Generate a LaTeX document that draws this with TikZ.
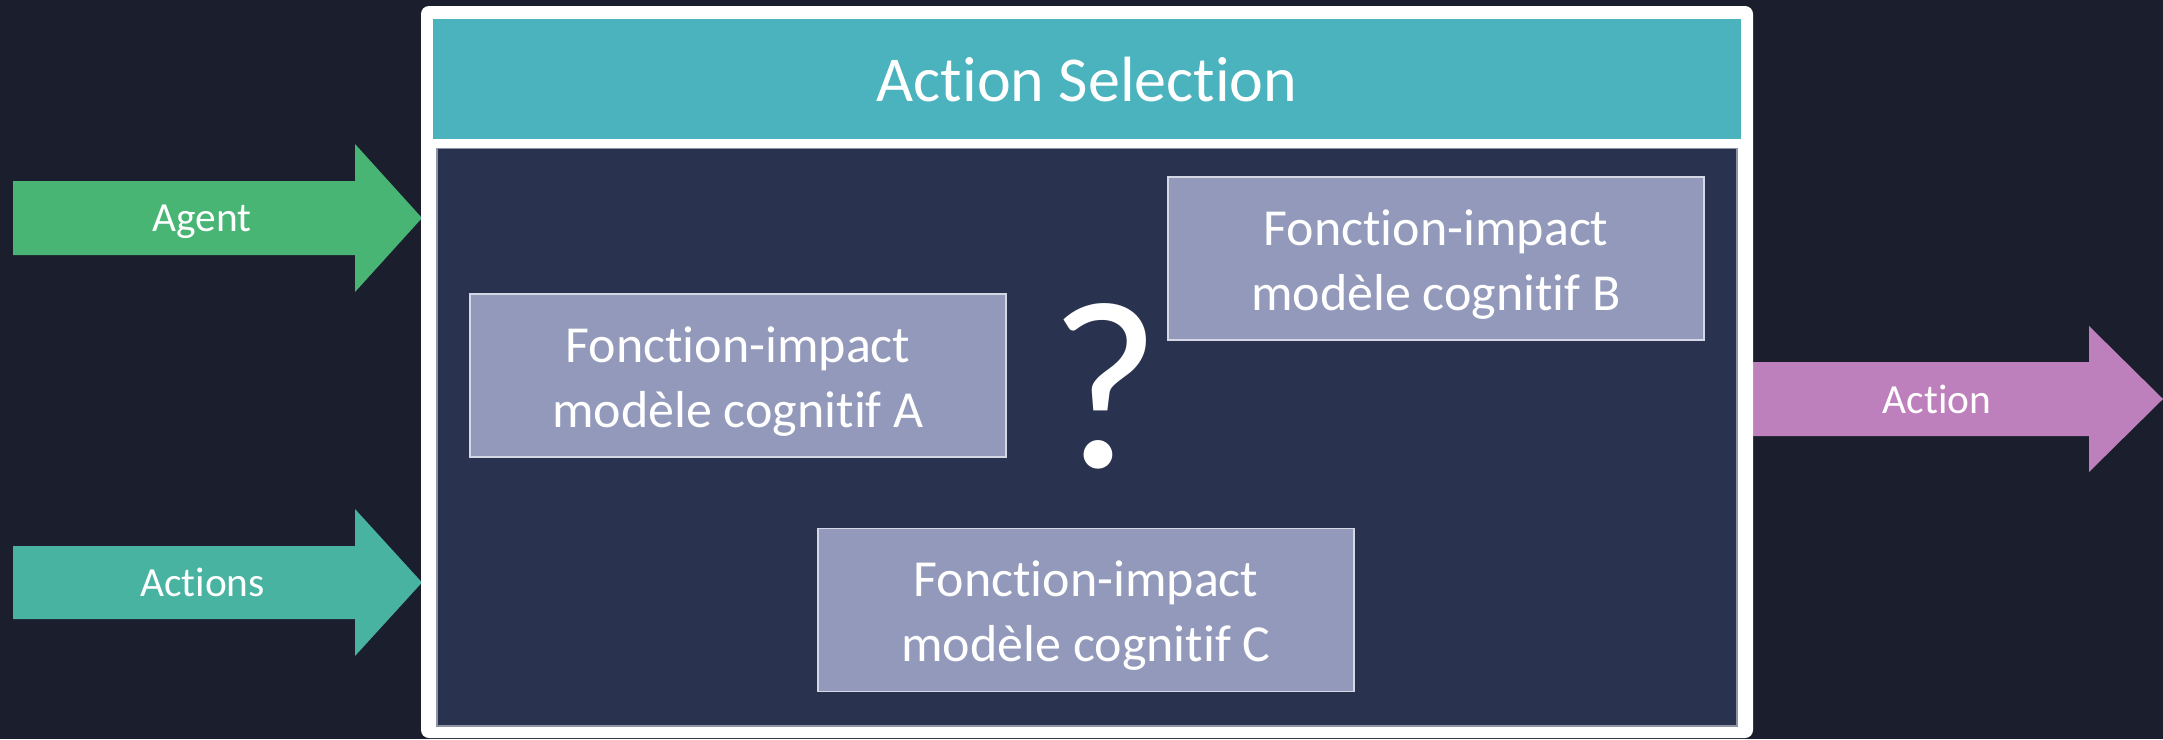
\documentclass[tikz,border=0pt]{standalone}
\usepackage{fontspec}
\setmainfont{Carlito}[Ligatures=NoCommon]
\definecolor{bg}{HTML}{1B1F2D}
\definecolor{panel}{HTML}{293350}
\definecolor{paneledge}{HTML}{8E93A6}
\definecolor{header}{HTML}{4AB3BD}
\definecolor{boxfill}{HTML}{9399BA}
\definecolor{boxedge}{HTML}{D4D7E4}
\definecolor{agentgreen}{HTML}{48B574}
\definecolor{actionsteal}{HTML}{47B3A0}
\definecolor{actionpurple}{HTML}{BE80BC}
\begin{document}
\begin{tikzpicture}[x=0.5pt,y=-0.5pt,
  model/.style={draw=boxedge, line width=0.9pt, fill=boxfill,
    inner sep=0pt, minimum width=268pt, minimum height=81.5pt},
  modeltext/.style={text=white, inner sep=0pt, align=center,
    font=\fontsize{26}{32.5}\selectfont},
  arrowlabel/.style={text=white, inner sep=0pt, anchor=base,
    font=\fontsize{20.7}{24}\selectfont}]
\useasboundingbox (0,0) rectangle (2163,739);
\fill[bg] (0,0) rectangle (2163,739);

% input / output block arrows
\fill[agentgreen] (13,181) -- (355,181) -- (355,144) -- (422,218) -- (355,292) -- (355,255) -- (13,255) -- cycle;
\fill[actionsteal] (13,546) -- (355,546) -- (355,509) -- (422,582.5) -- (355,656) -- (355,619) -- (13,619) -- cycle;
\fill[actionpurple] (1753,362) -- (2089,362) -- (2089,326) -- (2163,399) -- (2089,472) -- (2089,436) -- (1753,436) -- cycle;
\node[arrowlabel] (agent) at (202,231.7) {Agent};
\node[arrowlabel] (actions) at (202.5,596.7) {Actions};
\node[arrowlabel] (action) at (1937,413.3) {Action};

% selection frame
\fill[white, rounded corners=4pt] (421,6) rectangle (1753,738);
\fill[header] (433,19) rectangle (1741,139);
\node[text=white, inner sep=0pt, anchor=base, font=\fontsize{32}{38}\selectfont]
  (title) at (1087,101.7) {Action Selection};
\filldraw[fill=panel, draw=paneledge, line width=0.6pt] (437,148.5) rectangle (1737,726);

% candidate impact functions
\node[model] (fa) at (738,375.5) {};
\node[model] (fb) at (1436,258.5) {};
\node[model] (fc) at (1086,610) {};
\node[modeltext] (fatext) at ([yshift=-3pt]fa.center) {Fonction-impact\\modèle cognitif A};
\node[modeltext] (fbtext) at ([yshift=-3pt]fb.center) {Fonction-impact\\modèle cognitif B};
\node[modeltext] (fctext) at ([yshift=-3pt]fc.center) {Fonction-impact\\modèle cognitif C};
\node[text=white, inner sep=0pt, anchor=base, font=\fontsize{120}{130}\selectfont]
  (q) at (1105,467) {?};
\end{tikzpicture}
\end{document}
